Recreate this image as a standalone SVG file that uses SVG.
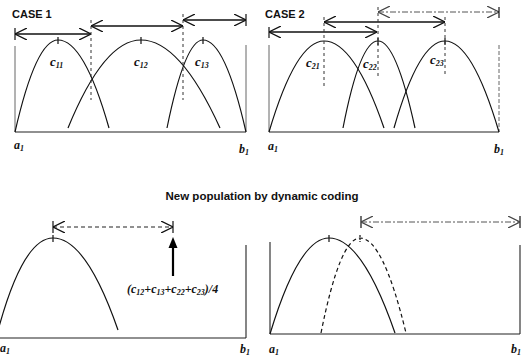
<svg xmlns="http://www.w3.org/2000/svg" width="523" height="361" viewBox="0 0 523 361">
<defs>
<marker id="vd" viewBox="0 0 12 12" refX="12" refY="6" markerWidth="12" markerHeight="12" orient="auto-start-reverse" markerUnits="userSpaceOnUse"><path d="M0,0 L12,6 L0,12" fill="none" stroke="#111" stroke-width="1.3"/></marker>
<marker id="vg" viewBox="0 0 12 12" refX="12" refY="6" markerWidth="12" markerHeight="12" orient="auto-start-reverse" markerUnits="userSpaceOnUse"><path d="M0,0 L12,6 L0,12" fill="none" stroke="#444" stroke-width="1.2"/></marker>
</defs>
<style>
.ttl{font-family:"Liberation Sans",Arial,sans-serif;font-weight:bold;fill:#111}
.lab{font-family:"Liberation Serif","Times New Roman",serif;font-style:italic;font-weight:bold;fill:#111}
.sub{font-size:8px}
.curve{fill:none;stroke:#111;stroke-width:1.2}
.dcurve{fill:none;stroke:#111;stroke-width:1.2;stroke-dasharray:4 3}
.axis{fill:none;stroke:#222;stroke-width:1.1}
.faint{fill:none;stroke:#555;stroke-width:0.9}
.dash{fill:none;stroke:#333;stroke-width:1;stroke-dasharray:3 3}
.arr{fill:none;stroke:#111;stroke-width:1.6;marker-start:url(#vd);marker-end:url(#vd)}
.arrg{fill:none;stroke:#555;stroke-width:1;stroke-dasharray:6 2 2 2;marker-start:url(#vg);marker-end:url(#vg)}
.arrd{fill:none;stroke:#222;stroke-width:1.1;stroke-dasharray:4 3;marker-start:url(#vd);marker-end:url(#vd)}
.tick{fill:none;stroke:#111;stroke-width:1.2}
</style>

<g id="case1">
<text class="ttl" x="12" y="18" font-size="11">CASE 1</text>
<path class="faint" d="M15,46 V132"/>
<path class="axis" d="M15,132 H246"/>
<path class="faint" d="M246,45 V132"/>
<path class="curve" d="M15,132 Q36,40 58,40 Q84,40 109,128"/>
<path class="curve" d="M68,128 Q104,40 141,40 Q180,40 220,128"/>
<path class="curve" d="M167,128 Q185,40 203,40 Q225,40 246,132"/>
<path class="tick" d="M58,37 V44 M141,37 V44 M203,37 V44"/>
<text class="lab" x="50" y="66" font-size="13">c<tspan class="sub" dy="2">11</tspan></text>
<text class="lab" x="134" y="66" font-size="13">c<tspan class="sub" dy="2">12</tspan></text>
<text class="lab" x="195" y="66" font-size="13">c<tspan class="sub" dy="2">13</tspan></text>
<text class="lab" x="14" y="149" font-size="12">a<tspan class="sub" dy="2">1</tspan></text>
<text class="lab" x="239" y="153" font-size="12">b<tspan class="sub" dy="2">1</tspan></text>
</g>

<g id="case2">
<text class="ttl" x="265" y="18" font-size="11">CASE 2</text>
<path class="faint" d="M269,45 V132"/>
<path class="axis" d="M269,132 H499"/>
<path class="faint" d="M499,45 V132" stroke-dasharray="4 2"/>
<path class="curve" d="M269,132 Q296,41 324,41 Q354,41 384,128"/>
<path class="curve" d="M343,128 Q360,41 378,41 Q396,41 415,128"/>
<path class="curve" d="M394,128 Q419,41 445,41 Q472,41 499,132"/>
<path class="tick" d="M378,38 V45 M445,38 V45"/>
<text class="lab" x="306" y="67" font-size="13">c<tspan class="sub" dy="2">21</tspan></text>
<text class="lab" x="363" y="68" font-size="13">c<tspan class="sub" dy="2">22</tspan></text>
<text class="lab" x="430" y="64" font-size="13">c<tspan class="sub" dy="2">23</tspan></text>
<text class="lab" x="268" y="150" font-size="12">a<tspan class="sub" dy="2">1</tspan></text>
<text class="lab" x="494" y="153" font-size="12">b<tspan class="sub" dy="2">1</tspan></text>
</g>

<text class="ttl" x="262" y="200" font-size="11.5" text-anchor="middle">New population by dynamic coding</text>

<g id="new1">
<path class="axis" d="M0,338 H246"/>
<path class="axis" d="M246,245 V338"/>
<path class="curve" d="M-4,338 Q22,238 53,238 Q86,238 118,330"/>
<path class="tick" d="M53,235 V242"/>
<path d="M173,276 V246" stroke="#000" stroke-width="2.2"/>
<path d="M173,237 L168.5,248 L177.5,248 Z" fill="#000"/>
<text class="lab" x="127" y="293" font-size="12">(c<tspan class="sub" dy="2">12</tspan><tspan dy="-2">+c</tspan><tspan class="sub" dy="2">13</tspan><tspan dy="-2">+c</tspan><tspan class="sub" dy="2">22</tspan><tspan dy="-2">+c</tspan><tspan class="sub" dy="2">23</tspan><tspan dy="-2">)/4</tspan></text>
<text class="lab" x="0" y="352" font-size="12">a<tspan class="sub" dy="2">1</tspan></text>
<text class="lab" x="240" y="353" font-size="12">b<tspan class="sub" dy="2">1</tspan></text>
</g>

<g id="new2">
<path class="axis" d="M270,242 V334"/>
<path class="axis" d="M270,334 H520"/>
<path class="axis" d="M520,245 V334"/>
<path class="curve" d="M270,334 Q299,238 329,238 Q362,238 395,333"/>
<path class="dcurve" d="M321,333 Q340,238 360,238 Q383,238 406,333"/>
<path class="tick" d="M329,235 V242"/>
<path class="tick" d="M360,235 V242" stroke-dasharray="2 1"/>
<text class="lab" x="269" y="353" font-size="12">a<tspan class="sub" dy="2">1</tspan></text>
<text class="lab" x="511" y="353" font-size="12">b<tspan class="sub" dy="2">1</tspan></text>
</g>

<g id="connectors">
<path class="tick" d="M15,28 V40"/>
<path class="arr" d="M15,34 H91"/>
<path class="arr" d="M91,26 H183"/>
<path class="arr" d="M183,20 H246" stroke="#333" stroke-width="1.2"/>
<path class="tick" d="M246,14 V26"/>
<path class="dash" d="M91,20 V100"/>
<path class="dash" d="M183,14 V100"/>

<path class="tick" d="M269,27 V38"/>
<path class="arr" d="M269,32 H377"/>
<path class="arr" d="M324,22 H445"/>
<path class="arrg" d="M378,12 H499"/>
<path class="tick" d="M499,7 V18" stroke="#444"/>
<path class="dash" d="M324,17 V88"/>
<path class="dash" d="M378,7 V78"/>
<path class="dash" d="M445,17 V76"/>

<path class="tick" d="M53,221 V233"/>
<path class="tick" d="M173,221 V233"/>
<path class="arrd" d="M53,227 H173"/>

<path class="tick" d="M361,216 V228"/>
<path class="tick" d="M520,216 V228"/>
<path class="arrg" d="M361,222 H520" stroke-dasharray="14 2 3 2"/>
</g>
</svg>
